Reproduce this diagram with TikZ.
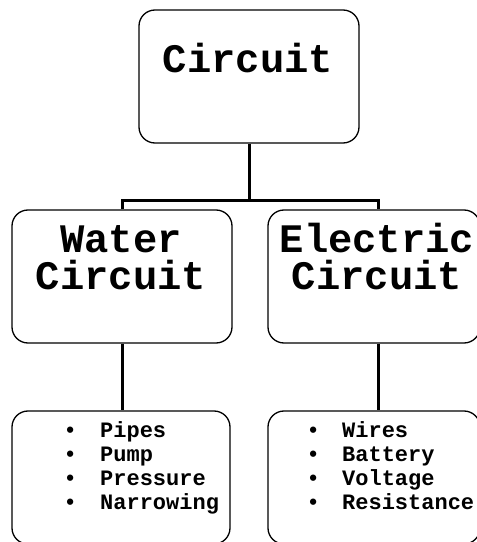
\documentclass[tikz,border=0pt]{standalone}
\usepackage{fontspec}
\setmonofont{Liberation Mono}
\usetikzlibrary{calc}
\tikzset{
  box/.style={draw=black, line width=1.3pt, rounded corners=16pt, inner sep=0pt, minimum height=133pt},
  conn/.style={draw=black, line width=3pt},
  title/.style={font=\ttfamily\bfseries\fontsize{40.5}{44}\selectfont, inner sep=0pt, anchor=base},
  list/.style={font=\ttfamily\bfseries\fontsize{22}{24}\selectfont, inner sep=0pt, anchor=base west},
}
\begin{document}
\begin{tikzpicture}[x=1pt,y=1pt]
\useasboundingbox (0,0) rectangle (477,542);
\clip (0,0) rectangle (477,542);
\fill[white] (0,0) rectangle (477,542);
% boxes
\node[box, minimum width=220pt] (top) at (249,465.5) {};
\node[box, minimum width=220pt] (water) at (122,265.5) {};
\node[box, minimum width=212pt] (elec) at (374,265.5) {};
\node[box, minimum width=218pt] (wlist) at (121,64.5) {};
\node[box, minimum width=212pt] (elist) at (374,64.5) {};
% titles
\node[title] (ttop) at (248,469) {Circuit};
\node[title] (tw1) at (121,289) {Water};
\node[title] (tw2) at (121,252) {Circuit};
\node[title] (te1) at (377,289) {Electric};
\node[title] (te2) at (377,252) {Circuit};
% lists
\node[list] (lw) at (63.4,104) {\renewcommand{\arraystretch}{1}\begin{tabular}[t]{@{}l@{}}
\makebox[36.6pt][l]{•}Pipes\\
\makebox[36.6pt][l]{•}Pump\\
\makebox[36.6pt][l]{•}Pressure\\
\makebox[36.6pt][l]{•}Narrowing
\end{tabular}};
\node[list] (le) at (306.4,104) {\renewcommand{\arraystretch}{1}\begin{tabular}[t]{@{}l@{}}
\makebox[35.6pt][l]{•}Wires\\
\makebox[35.6pt][l]{•}Battery\\
\makebox[35.6pt][l]{•}Voltage\\
\makebox[35.6pt][l]{•}Resistance
\end{tabular}};
% connectors
\draw[conn] (top.south) -- ++(0,-57) coordinate (j);
\draw[conn] (water.north) |- (j) -| ([xshift=4pt]elec.north);
\draw[conn] (water.south) -- (water.south |- wlist.north);
\draw[conn] ([xshift=4pt]elec.south) -- ([xshift=4pt]elist.north);
\end{tikzpicture}
\end{document}
